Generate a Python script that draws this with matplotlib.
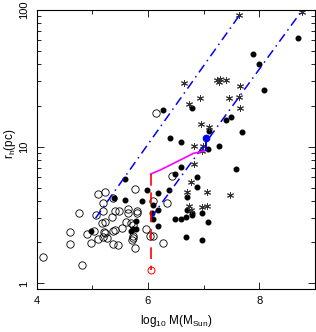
import numpy as np
import matplotlib
matplotlib.use("Agg")
import matplotlib.pyplot as plt

plt.rcParams['font.family'] = ['Liberation Sans', 'DejaVu Sans']
plt.rcParams['mathtext.default'] = 'regular'

# open circles
open_x = [4.12, 4.82, 4.76, 4.60, 4.60, 4.91, 4.97, 5.04, 5.06, 5.11, 5.23, 5.20, 5.19,
          5.17, 5.23, 5.11, 5.20, 5.23, 5.26, 5.21, 5.38, 5.35, 5.41, 5.49, 5.38, 5.41,
          5.38, 5.47, 5.53, 5.61, 5.64, 5.65, 5.69, 5.73, 5.73, 5.71, 5.74, 5.76, 5.77,
          5.81, 5.80, 5.96, 6.03, 6.10, 6.10, 6.43, 6.34, 6.27, 6.14]
open_y = [1.57, 1.36, 3.28, 2.38, 1.93, 2.31, 1.98, 2.42, 3.14, 4.48, 4.68, 3.89, 3.38,
          2.77, 2.79, 2.12, 2.19, 2.32, 2.15, 2.37, 4.23, 3.04, 3.38, 3.38, 2.41, 2.45,
          1.93, 1.90, 2.53, 2.82, 3.48, 3.28, 2.77, 2.66, 2.15, 2.07, 2.22, 4.92, 1.82,
          3.38, 3.28, 2.51, 2.24, 2.22, 4.02, 6.10, 3.85, 1.96, 17.6]

# filled dots
fill_x = [4.98, 5.59, 5.59, 5.39, 5.69, 5.74, 5.79, 5.79, 5.89, 5.99, 6.19, 6.09, 6.08,
          6.09, 6.19, 6.19, 6.49, 6.59, 6.89, 6.89, 6.38, 6.70, 6.70, 6.79, 6.79, 6.68,
          6.59, 6.49, 6.98, 7.08, 6.68, 6.98, 7.59, 6.28, 6.79, 7.09, 6.39, 6.59, 7.08,
          7.28, 7.40, 7.49, 7.69, 7.89, 7.99, 8.09, 8.69]
fill_y = [2.41, 5.83, 4.07, 4.23, 2.41, 2.48, 2.87, 2.48, 3.98, 4.79, 4.56, 3.72, 3.25,
          2.94, 3.44, 2.64, 6.31, 7.14, 6.03, 5.04, 4.82, 4.26, 3.44, 3.28, 3.16, 3.04,
          2.95, 2.95, 3.28, 2.79, 2.17, 2.08, 6.83, 18.6, 19.1, 13.0, 11.6, 10.9, 9.62,
          10.1, 15.8, 16.6, 12.9, 47.8, 40.2, 26.0, 62.6]

# asterisks
star_x = [6.64, 6.94, 6.73, 7.24, 7.29, 7.28, 7.41, 7.46, 7.65, 7.64, 7.65, 6.95, 7.10,
          6.83, 6.99, 6.98, 6.82, 7.64, 8.76, 6.77, 6.70, 6.74, 6.77, 6.97, 7.07, 7.07, 7.47]
star_y = [29.1, 22.9, 20.5, 30.5, 31.3, 29.9, 30.5, 22.9, 28.0, 23.0, 19.1, 14.7, 14.0,
          10.2, 10.2, 9.35, 7.43, 91.2, 97.5, 5.54, 4.63, 3.70, 3.44, 3.63, 3.70, 4.63, 4.43]

# dash-dot relations (end points)
rel1_x = [5.06, 7.64]
rel1_y = [3.0, 91.0]
rel2_x = [6.05, 8.75]
rel2_y = [3.0, 97.0]

# magenta track
track_x = [6.05, 6.22, 6.40, 6.64, 6.82, 7.03]
track_y = [6.31, 6.75, 7.34, 8.22, 8.95, 9.35]

# red dashed drop and circle
drop_x = [6.05, 6.05]
drop_y = [6.3, 1.25]

# blue point and segment
blue_x = [7.04, 7.04]
blue_y = [11.6, 9.4]

fig = plt.figure(figsize=(3.16, 3.32), dpi=100)
ax = fig.add_axes([36.5 / 316, 1 - 289 / 332, 278.5 / 316, 279 / 332])

ax.plot(open_x, open_y, 'o', mfc='none', mec='black', ms=5.3, mew=0.6)
ax.plot(fill_x, fill_y, 'o', color='black', ms=3.3)
ax.plot(star_x, star_y, ls='none', marker=(6, 2, 0), color='#333333', ms=5, mew=0.7)

ax.plot(rel1_x, rel1_y, color='blue', lw=1.1, ls=(0, (6, 3, 1, 3)))
ax.plot(rel2_x, rel2_y, color='blue', lw=1.1, ls=(0, (6, 3, 1, 3)))
ax.plot(track_x, track_y, color='magenta', lw=1.2)
ax.plot(drop_x, drop_y, color='red', lw=1.2, ls=(0, (7, 4)))
ax.plot(drop_x[1], drop_y[1], 'o', mfc='none', mec='red', ms=5, mew=0.7)
ax.plot(blue_x, blue_y, color='blue', lw=1.4)
ax.plot(blue_x[0], blue_y[0], 'o', color='blue', ms=4.5)

ax.set_yscale('log')
ax.set_xlim(4, 9)
ax.set_ylim(0.91, 100)

ax.set_xticks([4, 6, 8])
ax.set_xticks([5, 7, 9], minor=True)
ax.set_yticks([1, 10, 100])
ax.set_yticklabels(['1', '10', '100'], rotation=90, va='center')
ax.tick_params(which='both', direction='in', top=True, right=True, labelsize=8, width=0.6)
ax.tick_params(which='major', length=5, pad=5)
ax.tick_params(which='minor', length=3)
for s in ax.spines.values():
    s.set_linewidth(0.8)

ax.set_xlabel(r'log$_{10}$ M(M$_{Sun}$)', fontsize=8.5, labelpad=5)
ax.set_ylabel(r'r$_h$(pc)', fontsize=8.5)
ax.yaxis.set_label_coords(-0.065, 0.52)

fig.savefig('out.png', dpi=100)
